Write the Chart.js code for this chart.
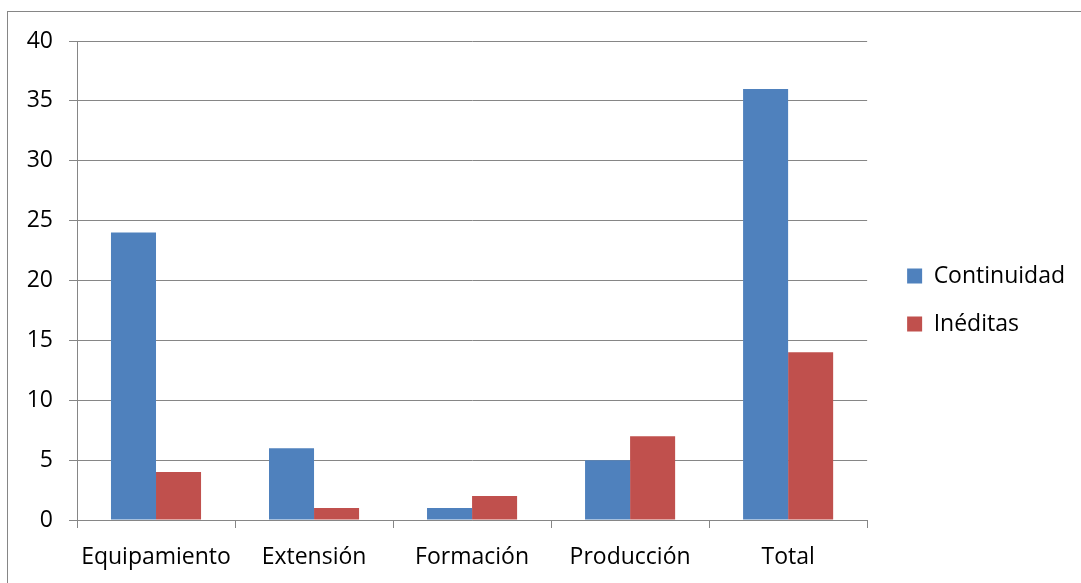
<!DOCTYPE html>
<html>
<head>
<meta charset="utf-8">
<script src="https://cdn.jsdelivr.net/npm/chart.js@4/dist/chart.umd.min.js"></script>
<style>
  html, body { margin: 0; padding: 0; background: #fff; }
  #wrap { width: 1081px; height: 583px; position: relative; }
</style>
</head>
<body>
<div id="wrap"><canvas id="c" width="1081" height="583"></canvas></div>
<script>
const categories = ['Equipamiento', 'Extensión', 'Formación', 'Producción', 'Total'];
const continuidad = [24, 6, 1, 5, 36];
const ineditas = [4, 1, 2, 7, 14];
const yTicks = [0, 5, 10, 15, 20, 25, 30, 35, 40];

const FONT = "'Open Sans', 'Liberation Sans', sans-serif";
const GRID = '#868686';

const outerBorder = {
  id: 'outerBorder',
  beforeDraw(chart) {
    const ctx = chart.ctx;
    ctx.save();
    ctx.fillStyle = '#fff';
    ctx.fillRect(0, 0, chart.width, chart.height);
    ctx.strokeStyle = GRID;
    ctx.lineWidth = 1;
    ctx.strokeRect(7.5, 11.5, 1200, 700);
    ctx.restore();
  }
};

const legendShift = {
  id: 'legendShift',
  afterLayout(chart) {
    const lg = chart.legend;
    if (lg) { lg.left += 15; lg.right += 15; lg.top -= 12; lg.bottom -= 12; }
  }
};

new Chart(document.getElementById('c'), {
  type: 'bar',
  data: {
    labels: categories,
    datasets: [
      { label: 'Continuidad', data: continuidad, backgroundColor: '#4F81BD', borderWidth: 0 },
      { label: 'Inéditas', data: ineditas, backgroundColor: '#C0504D', borderWidth: 0 }
    ]
  },
  options: {
    responsive: false,
    animation: false,
    devicePixelRatio: 1,
    layout: { padding: { left: 0, top: 41, right: 21, bottom: 0 } },
    datasets: { bar: { categoryPercentage: 0.57, barPercentage: 1.0 } },
    plugins: {
      legend: {
        position: 'right',
        align: 'center',
        labels: {
          font: { family: FONT, size: 23 },
          color: '#000',
          boxWidth: 15,
          boxHeight: 15,
          padding: 25
        }
      },
      tooltip: { enabled: false }
    },
    scales: {
      x: {
        afterFit(s) { s.height = 63; },
        grid: { display: true, drawOnChartArea: false, drawTicks: true, tickLength: 8, color: GRID, offset: true },
        border: { display: true, color: GRID, width: 1 },
        ticks: { font: { family: FONT, size: 23 }, color: '#000', padding: 16, maxRotation: 0 }
      },
      y: {
        min: 0, max: 40,
        afterFit(s) { s.width = 77; },
        afterBuildTicks(s) { s.ticks = yTicks.map(v => ({ value: v })); },
        grid: { color: GRID, lineWidth: 1, tickLength: 8, drawTicks: true },
        border: { display: true, color: GRID, width: 1 },
        ticks: { font: { family: FONT, size: 23 }, color: '#000', padding: 16 }
      }
    }
  },
  plugins: [outerBorder, legendShift]
});
</script>
</body>
</html>
